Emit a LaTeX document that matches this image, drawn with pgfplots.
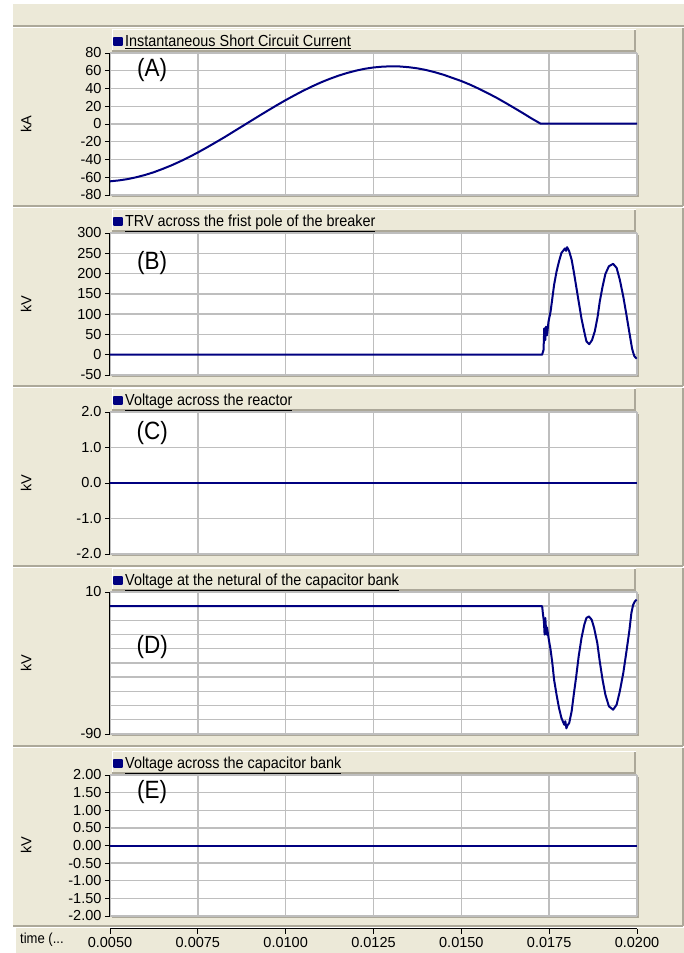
\documentclass[border=0pt]{standalone}
\usepackage{fontspec}
\setmainfont{Liberation Sans}
\newfontfamily\narrowfont{Liberation Sans}[FakeStretch=0.9]
\usepackage{pgfplots}
\pgfplotsset{compat=1.18}

\definecolor{panelbg}{RGB}{236,233,216}
\definecolor{edge}{RGB}{172,168,153}
\definecolor{gridgray}{RGB}{190,190,190}
\definecolor{navy}{RGB}{0,0,128}

\newcommand{\tickfont}{\fontsize{14.5}{16}\selectfont}
\newcommand{\legfont}{\narrowfont\fontsize{16}{18}\selectfont}
\newcommand{\tagfont}{\narrowfont\fontsize{25}{28}\selectfont}

\pgfplotsset{
  /pgf/number format/assume math mode=true,
  panel/.style={
    scale only axis, width=527pt, height=142pt,
    xmin=0.005, xmax=0.02,
    xtick={0.005,0.0075,0.01,0.0125,0.015,0.0175,0.02},
    xticklabels={},
    scaled x ticks=false,
    scaled y ticks=false,
    x tick style={draw=none},
    ytick pos=left,
    tick align=outside,
    major tick length=5pt,
    minor tick length=0pt,
    y tick style={black, line width=0.8pt},
    grid=major,
    major grid style={gridgray, line width=1.4pt},
    minor grid style={gridgray, line width=1.4pt},
    axis line style={draw=none},
    axis background/.style={fill=white},
    clip=false,
    yticklabel style={font=\tickfont},
    every axis y label/.style={at={(rel axis cs:0,0.5)}, xshift=-84pt,
      rotate=90, anchor=center, font=\tickfont},
    legend style={at={(rel axis cs:0,1)}, anchor=south west, xshift=2pt,
      yshift=1pt, draw=none, fill=none, font=\legfont,
      inner xsep=1pt, inner ysep=1.5pt},
    legend cell align=left,
    legend image code/.code={\fill[navy] (0pt,-3.5pt) rectangle (8pt,3.5pt);},
    after end axis/.append code={
      \draw[black, line width=1pt] (rel axis cs:0,0) -- (rel axis cs:0,1);},
  },
  wave/.style={draw=navy, line width=2pt, no marks, line join=round},
}

% panel chrome: frame top/bottom (y from page bottom), plot top, plot bottom
\newcommand{\panelframe}[4]{%
  \fill[panelbg] (13pt,#2) rectangle (683pt,#1);
  \draw[edge, line width=1.2pt] (13pt,#2) -- (683pt,#2);
  \draw[white, line width=1pt] (13pt,#2-1.2pt) -- (683pt,#2-1.2pt);
  \draw[edge, line width=1.2pt] (683pt,#2) -- (683pt,#1);
  % title box above the plot
  \fill[panelbg] (112pt,#3+1pt) rectangle (636pt,#3+23pt);
  \draw[white, line width=1pt] (112pt,#3+1pt) -- (112pt,#3+23pt) -- (636pt,#3+23pt);
  \draw[edge, line width=1.6pt] (112pt,#3+1.8pt) -- (635.2pt,#3+1.8pt) -- (635.2pt,#3+23pt);
  % shadow at the right and bottom of the plot area
  \draw[edge, line width=1.6pt] (112pt,#4-1.2pt) -- (638.6pt,#4-1.2pt) -- (638.6pt,#3-2pt);
}

\begin{document}
\begin{tikzpicture}
\useasboundingbox (0,0) rectangle (684pt,953pt);
\fill[white] (0,0) rectangle (684pt,953pt);
% header strip
\fill[panelbg] (13pt,927pt) rectangle (684pt,949pt);
\draw[edge, line width=1.2pt] (13pt,927pt) -- (684pt,927pt);
% panels
\panelframe{925pt}{747pt}{900pt}{758pt}
\panelframe{745pt}{567pt}{720pt}{578pt}
\panelframe{565pt}{387pt}{541pt}{399pt}
\panelframe{385pt}{207pt}{361pt}{219pt}
\panelframe{205pt}{27pt}{178pt}{37pt}
% time axis strip
\fill[panelbg] (15pt,0pt) rectangle (684pt,25pt);
\draw[white, line width=1pt] (15pt,0pt) -- (15pt,25pt) -- (70pt,25pt);
\node[anchor=west, font=\narrowfont\fontsize{14.5}{16}\selectfont, inner sep=0pt] at (20pt,13pt) {time (...};

% shared time axis
\begin{axis}[scale only axis, width=527pt, height=10pt,
  at={(110pt,24pt)}, anchor=south west,
  xmin=0.005, xmax=0.02, ymin=0, ymax=1,
  axis x line=bottom, axis y line=none,
  scaled x ticks=false,
  x axis line style={-, black, line width=1pt},
  xtick={0.005,0.0075,0.01,0.0125,0.015,0.0175,0.02},
  xticklabels={0.0050,0.0075,0.0100,0.0125,0.0150,0.0175,0.0200},
  tick align=outside, major tick length=5pt,
  x tick style={black, line width=0.8pt},
  xticklabel style={font=\tickfont}]
\addplot[draw=none] coordinates {(0.005,0) (0.02,0)};
\end{axis}

% (A) short circuit current
\begin{axis}[panel, at={(110pt,758pt)}, anchor=south west,
  ymin=-80, ymax=80, ytick={-80,-60,-40,-20,0,20,40,60,80}, ylabel={kA}]
\addplot[wave] coordinates {
(0.00500,-64.6) (0.00525,-63.6) (0.00550,-62.1) (0.00575,-60.0) (0.00600,-57.4)
(0.00625,-54.3) (0.00650,-50.6) (0.00675,-46.6) (0.00700,-42.1) (0.00725,-37.3)
(0.00750,-32.1) (0.00775,-26.6) (0.00800,-20.9) (0.00825,-15.1) (0.00850,-9.0)
(0.00875,-2.9) (0.00900,3.2) (0.00925,9.3) (0.00950,15.3) (0.00975,21.2)
(0.01000,26.9) (0.01025,32.3) (0.01050,37.5) (0.01075,42.3) (0.01100,46.8)
(0.01125,50.8) (0.01150,54.4) (0.01175,57.5) (0.01200,60.1) (0.01225,62.2)
(0.01250,63.7) (0.01275,64.6) (0.01300,65.0) (0.01325,64.8) (0.01350,64.0)
(0.01375,62.7) (0.01400,60.8) (0.01425,58.3) (0.01450,55.4) (0.01475,51.9)
(0.01500,48.4) (0.01525,44.3) (0.01550,39.7) (0.01575,34.8) (0.01600,29.6)
(0.01625,24.0) (0.01650,18.2) (0.01675,12.3) (0.01700,6.2) (0.01725,0.5)
(0.01740,0.5) (0.02000,0.5)
};
\addlegendentry{\underline{Instantaneous Short Circuit Current}}
\node[font=\tagfont] at (rel axis cs:0.08,0.88) {(A)};
\end{axis}

% (B) transient recovery voltage
\begin{axis}[panel, at={(110pt,578pt)}, anchor=south west,
  ymin=-50, ymax=300, ytick={-50,0,50,100,150,200,250,300}, ylabel={kV}]
\addplot[wave] coordinates {
(0.00500,0) (0.01730,0) (0.01734,12) (0.01736,65) (0.01739,36) (0.01741,69)
(0.01744,48) (0.01748,81) (0.01754,106) (0.01759,139) (0.01764,172)
(0.01771,205) (0.01778,230) (0.01785,251) (0.01795,262) (0.01798,256)
(0.01801,265) (0.01807,255) (0.01814,234) (0.01820,205) (0.01827,168)
(0.01834,131) (0.01842,89) (0.01850,56) (0.01856,33) (0.01864,26)
(0.01872,36) (0.01880,58) (0.01888,94) (0.01894,131) (0.01902,168)
(0.01910,199) (0.01920,218) (0.01932,224) (0.01942,214) (0.01951,185)
(0.01961,143) (0.01970,98) (0.01978,56) (0.01986,15) (0.01992,-3)
(0.01999,-10)
};
\addlegendentry{\underline{TRV across the frist pole of the breaker}}
\node[font=\tagfont] at (rel axis cs:0.08,0.79) {(B)};
\end{axis}

% (C) reactor voltage
\begin{axis}[panel, at={(110pt,399pt)}, anchor=south west,
  ymin=-2, ymax=2, ytick={-2,-1,0,1,2},
  yticklabels={-2.0,-1.0,0.0,1.0,2.0}, ylabel={kV}]
\addplot[wave] coordinates {(0.005,0) (0.02,0)};
\addlegendentry{\underline{Voltage across the reactor}}
\node[font=\tagfont] at (rel axis cs:0.08,0.85) {(C)};
\end{axis}

% (D) capacitor bank neutral voltage
\begin{axis}[panel, at={(110pt,219pt)}, anchor=south west,
  ymin=-90, ymax=10, ytick={-90,10},
  minor ytick={-80,-70,-60,-50,-40,-30,-20,-10,0}, grid=both, ylabel={kV}]
\addplot[wave] coordinates {
(0.00500,0) (0.01730,0) (0.01732,-4.8) (0.01735,-10.7) (0.01737,-20)
(0.01739,-8.3) (0.01742,-20) (0.01744,-15) (0.01748,-22) (0.01754,-30.6)
(0.01759,-40) (0.01764,-51.8) (0.01771,-62.3) (0.01778,-71.7) (0.01785,-78.8)
(0.01793,-83.5) (0.01796,-81) (0.01799,-86) (0.01802,-84) (0.01807,-82.3)
(0.01814,-74) (0.01820,-62.3) (0.01827,-49.4) (0.01834,-35.3) (0.01842,-22.4)
(0.01850,-13) (0.01856,-8.3) (0.01863,-7.2) (0.01871,-9.5) (0.01878,-15.4)
(0.01887,-25.9) (0.01894,-38.9) (0.01902,-51.8) (0.01910,-62.3) (0.01920,-70.5)
(0.01932,-72.9) (0.01942,-69.4) (0.01951,-60) (0.01961,-47) (0.01970,-31.8)
(0.01978,-17.7) (0.01984,-4.8) (0.01989,1) (0.01994,3.4) (0.01999,4.6)
};
\addlegendentry{\underline{Voltage at the netural of the capacitor bank}}
\node[font=\tagfont] at (rel axis cs:0.08,0.61) {(D)};
\end{axis}

% (E) capacitor bank voltage
\begin{axis}[panel, at={(110pt,37pt)}, anchor=south west, height=141pt,
  ymin=-2, ymax=2, ytick={-2,-1.5,-1,-0.5,0,0.5,1,1.5,2},
  yticklabels={-2.00,-1.50,-1.00,-0.50,0.00,0.50,1.00,1.50,2.00}, ylabel={kV}]
\addplot[wave] coordinates {(0.005,0) (0.02,0)};
\addlegendentry{\underline{Voltage across the capacitor bank}}
\node[font=\tagfont] at (rel axis cs:0.08,0.88) {(E)};
\end{axis}
\end{tikzpicture}
\end{document}
